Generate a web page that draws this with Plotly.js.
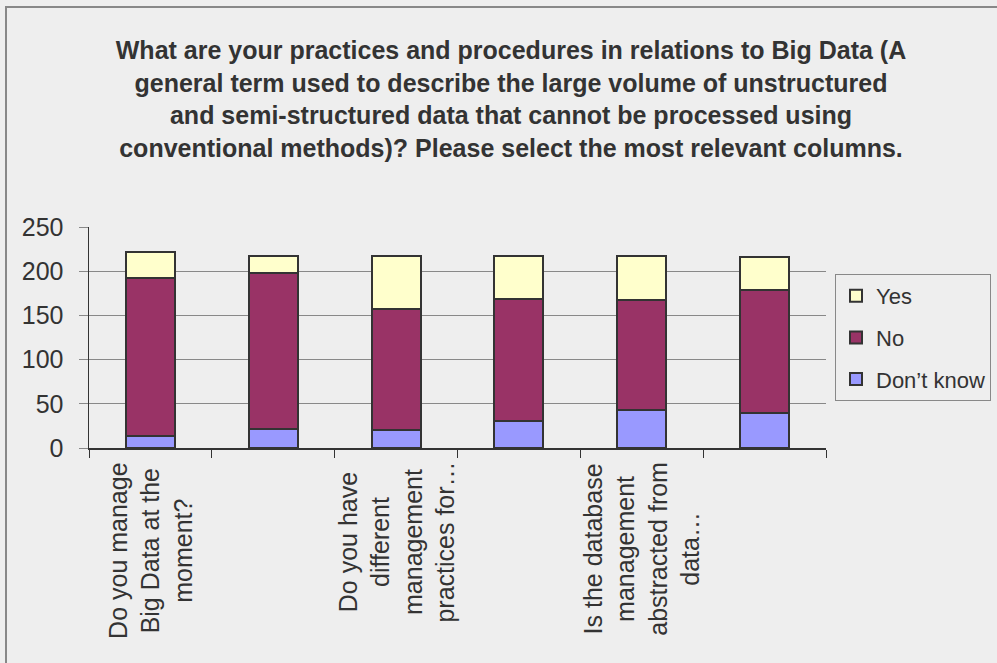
<!DOCTYPE html>
<html>
<head>
<meta charset="utf-8">
<script src="https://cdn.plot.ly/plotly-3.0.1.min.js"></script>
<style>
  html, body { margin: 0; padding: 0; background: #eeeeee; }
  #chart { width: 997px; height: 663px; }
</style>
</head>
<body>
<div id="chart"></div>
<script>
// ---- data ----
var positions = [1, 2, 3, 4, 5, 6];
var categoryLabels = [
  "Do you manage<br>Big Data at the<br>moment?",
  "",
  "Do you have<br>different<br>management<br>practices for…",
  "",
  "Is the database<br>management<br>abstracted from<br>data…",
  ""
];
var dontKnow = [14, 22, 20, 31, 43, 40];
var no = [178, 176, 137, 138, 124, 139];
var yes = [30, 19, 60, 48, 50, 37];
var yTicks = [0, 50, 100, 150, 200, 250];
var titleText = "What are your practices and procedures in relations to Big Data (A<br>general term used to describe the large volume of unstructured<br>and semi-structured data that cannot be processed using<br>conventional methods)? Please select the most relevant columns.";

// ---- geometry (pixels) ----
var W = 997, H = 663;
var L = 89, R = 826, T = 227, B = 448;
var pw = R - L, ph = B - T;
function px2x(px) { return (px - L) / pw; }
function py2y(py) { return (B - py) / ph; }

var edge = { color: '#333333', width: 2 };
function bar(name, vals, color, rank) {
  return {
    type: 'bar', name: name, x: positions, y: vals,
    marker: { color: color, line: edge },
    legendgroup: name, legendrank: rank, hoverinfo: 'y'
  };
}
var traces = [
  bar("Don’t know", dontKnow, '#9999ff', 3),
  bar("No", no, '#993366', 2),
  bar("Yes", yes, '#ffffcc', 1)
];

var boundaries = [];
for (var i = 0; i <= positions.length; i++) boundaries.push(positions[0] - 0.5 + i);

var annotations = categoryLabels.map(function (t, i) {
  return {
    x: positions[i], xref: 'x', y: 0, yref: 'paper',
    text: t, showarrow: false, textangle: -90, align: 'center',
    xanchor: 'center', yanchor: 'top', yshift: -12,
    font: { family: 'Liberation Sans, Arial, sans-serif', size: 25, color: '#333333' }
  };
}).filter(function (a) { return a.text !== ""; });

var layout = {
  width: W, height: H,
  paper_bgcolor: '#eeeeee', plot_bgcolor: '#eeeeee',
  margin: { l: L, r: W - R, t: T, b: H - B, pad: 0, autoexpand: false },
  barmode: 'stack', bargap: 0.6,
  font: { family: 'Liberation Sans, Arial, sans-serif', color: '#333333' },
  title: {
    text: titleText, xref: 'container', x: 511 / W, xanchor: 'center',
    yref: 'container', y: 1 - 59 / H, yanchor: 'top',
    font: { family: 'Liberation Sans, Arial, sans-serif', size: 25, weight: 'bold', color: '#333333' }
  },
  xaxis: {
    type: 'linear', range: [boundaries[0], boundaries[boundaries.length - 1]],
    tickmode: 'array', tickvals: boundaries, ticktext: boundaries.map(function () { return ''; }),
    ticks: 'outside', ticklen: 8, tickcolor: '#333333', tickwidth: 1,
    showgrid: false, zeroline: false, automargin: false,
    showline: true, linecolor: '#333333', linewidth: 1.5, fixedrange: true
  },
  yaxis: {
    range: [0, 250], tickmode: 'array', tickvals: yTicks,
    ticks: 'outside', ticklen: 9, tickcolor: '#888888', tickwidth: 1,
    ticklabelstandoff: 10, automargin: false,
    tickfont: { size: 25, color: '#333333' },
    showgrid: true, gridcolor: '#888888', gridwidth: 1,
    zeroline: false, showline: true, linecolor: '#333333', linewidth: 1.5, fixedrange: true
  },
  legend: {
    x: px2x(835), xanchor: 'left', y: py2y(274), yanchor: 'top',
    bgcolor: '#eeeeee', bordercolor: '#888888', borderwidth: 1,
    font: { size: 22, color: '#333333' },
    traceorder: 'grouped', tracegroupgap: 10, itemwidth: 30
  },
  shapes: [{
    type: 'rect', xref: 'paper', yref: 'paper',
    x0: px2x(6), x1: px2x(1010), y0: py2y(680), y1: py2y(7),
    line: { color: '#888888', width: 2 }, fillcolor: 'rgba(0,0,0,0)', layer: 'below'
  }],
  annotations: annotations,
  showlegend: true
};

Plotly.newPlot('chart', traces, layout, { displayModeBar: false, staticPlot: true });
</script>
</body>
</html>
